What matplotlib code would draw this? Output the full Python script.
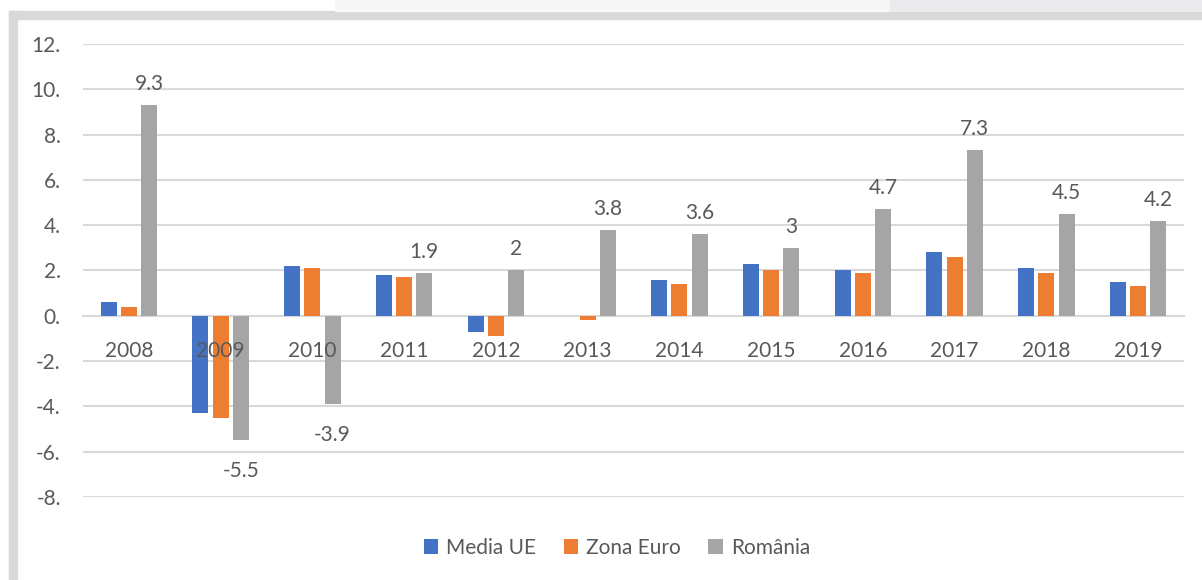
import matplotlib.pyplot as plt
import matplotlib.patches as patches
import numpy as np

# Data
years = ['2008', '2009', '2010', '2011', '2012', '2013',
         '2014', '2015', '2016', '2017', '2018', '2019']
media_ue = [0.6, -4.3, 2.2, 1.8, -0.7, 0.0, 1.6, 2.3, 2.0, 2.8, 2.1, 1.5]
zona_euro = [0.4, -4.5, 2.1, 1.7, -0.9, -0.2, 1.4, 2.0, 1.9, 2.6, 1.9, 1.3]
romania = [9.3, -5.5, -3.9, 1.9, 2.0, 3.8, 3.6, 3.0, 4.7, 7.3, 4.5, 4.2]
series_names = ['Media UE', 'Zona Euro', 'România']

colors = ['#4472C4', '#ED7D31', '#A5A5A5']
text_color = '#595959'
grid_color = '#D9D9D9'
fs = 15

plt.rcParams['font.family'] = ['Lato', 'DejaVu Sans']

fig = plt.figure(figsize=(12.02, 5.80), dpi=100)

# light grey frame round the chart (top and left edges)
fig.patches.append(patches.Rectangle((9 / 1202, 0), 8 / 1202, 1 - 11 / 580,
                                     transform=fig.transFigure,
                                     color='#D9D9D9', zorder=0))
fig.patches.append(patches.Rectangle((9 / 1202, 1 - 19 / 580), 1, 8 / 580,
                                     transform=fig.transFigure,
                                     color='#D9D9D9', zorder=0))
fig.patches.append(patches.Rectangle((335 / 1202, 1 - 11 / 580), 555 / 1202, 11 / 580,
                                     transform=fig.transFigure,
                                     color='#F7F7F8', zorder=0))
fig.patches.append(patches.Rectangle((890 / 1202, 1 - 11 / 580), 312 / 1202, 11 / 580,
                                     transform=fig.transFigure,
                                     color='#EBEBED', zorder=0))

ax = fig.add_axes([83 / 1202, 1 - 497 / 580, (1184 - 83) / 1202, (497 - 44) / 580])

x = np.arange(len(years))
width = 0.175
step = 0.22
all_series = [media_ue, zona_euro, romania]

for i, (vals, name) in enumerate(zip(all_series, series_names)):
    ax.bar(x + (i - 1) * step, vals, width, color=colors[i], label=name, zorder=3)

# value labels on the România bars
for xi, v in zip(x, romania):
    if v >= 0:
        ax.annotate(f'{v:g}', (xi + step, v), xytext=(0, 8), textcoords='offset points',
                    ha='center', va='bottom', fontsize=fs, color=text_color)
    else:
        ax.annotate(f'{v:g}', (xi + step, v), xytext=(0, -15), textcoords='offset points',
                    ha='center', va='top', fontsize=fs, color=text_color)

ax.set_ylim(-8, 12)
ax.set_xlim(-0.5, len(years) - 0.5)
yt = np.arange(-8, 13, 2)
ax.set_yticks(yt)
ax.set_yticklabels([f'{int(t)}.' for t in yt])
ax.set_xticks(x)
ax.set_xticklabels(years)

ax.yaxis.grid(True, color=grid_color, linewidth=1.5, zorder=0)
for s in ['top', 'right', 'left']:
    ax.spines[s].set_visible(False)
ax.spines['bottom'].set_position(('data', 0))
ax.spines['bottom'].set_color(grid_color)
ax.spines['bottom'].set_linewidth(1.5)
ax.spines['bottom'].set_zorder(2)
ax.xaxis.set_zorder(5)   # year labels sit over the bars, as in the original
ax.tick_params(axis='both', length=0, labelsize=fs, labelcolor=text_color)
ax.tick_params(axis='x', pad=18)
ax.tick_params(axis='y', pad=16)

fig.legend(loc='center', bbox_to_anchor=(617 / 1202, 1 - 548 / 580), ncol=3,
           frameon=False, fontsize=fs, labelcolor=text_color,
           handlelength=0.7, handleheight=0.7, handletextpad=0.4, columnspacing=1.3)

fig.savefig('out.png', dpi=100, facecolor='white')
